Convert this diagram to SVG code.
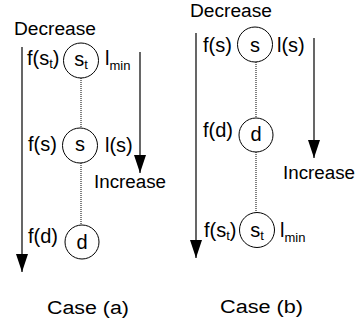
<svg xmlns="http://www.w3.org/2000/svg" width="360" height="327" viewBox="0 0 360 327">
<style>
  text { font-family: "Liberation Sans", Arial, sans-serif; fill: #000; }
  .lbl { font-size: 20px; }
  .ttl { font-size: 18px; }
  .sub { font-size: 13px; }
  .node { fill: #fff; stroke: #000; stroke-width: 1; }
  .dot { stroke: #000; stroke-width: 1; stroke-dasharray: 1 1; fill: none; }
  .axis { stroke: #000; stroke-width: 1.2; fill: none; marker-end: url(#arrow); }
</style>
<defs>
  <marker id="arrow" markerUnits="userSpaceOnUse" markerWidth="18" markerHeight="12" viewBox="0 -6 18 12" refX="18" refY="0" orient="auto">
    <path d="M0,-6 L18,0 L0,6 z" fill="#000"/>
  </marker>
</defs>

<g id="axes">
  <line class="axis" x1="22" y1="47" x2="22" y2="272"/>
  <line class="axis" x1="140" y1="52" x2="140" y2="173"/>
  <line class="axis" x1="196" y1="33" x2="196" y2="258"/>
  <line class="axis" x1="314" y1="38" x2="314" y2="158"/>
</g>

<g id="connectors">
  <line class="dot" x1="81" y1="78" x2="81" y2="128"/>
  <line class="dot" x1="81" y1="163" x2="81" y2="225"/>
  <line class="dot" x1="256" y1="62" x2="256" y2="118"/>
  <line class="dot" x1="256" y1="152" x2="256" y2="212"/>
</g>

<g id="titles">
  <text class="ttl" x="14" y="35" textLength="82" lengthAdjust="spacingAndGlyphs">Decrease</text>
  <text class="ttl" x="94" y="188" textLength="72" lengthAdjust="spacingAndGlyphs">Increase</text>
  <text class="ttl" x="190" y="17" textLength="82" lengthAdjust="spacingAndGlyphs">Decrease</text>
  <text class="ttl" x="283" y="179" textLength="72" lengthAdjust="spacingAndGlyphs">Increase</text>
  <text class="ttl" x="47" y="314" textLength="82" lengthAdjust="spacingAndGlyphs">Case (a)</text>
  <text class="ttl" x="220" y="313" textLength="83" lengthAdjust="spacingAndGlyphs">Case (b)</text>
</g>

<!-- Case (a) -->
<g id="a-st">
  <circle class="node" cx="81" cy="60.5" r="17.5"/>
  <text class="lbl" x="81" y="66" text-anchor="middle">s<tspan class="sub" dy="3">t</tspan></text>
  <text class="lbl" x="27" y="65">f(s<tspan class="sub" dy="3">t</tspan><tspan dy="-3">)</tspan></text>
  <text class="lbl" x="105" y="65">l<tspan class="sub" dy="5">min</tspan></text>
</g>
<g id="a-s">
  <circle class="node" cx="80" cy="145.5" r="17.5"/>
  <text class="lbl" x="80" y="151" text-anchor="middle">s</text>
  <text class="lbl" x="28" y="151">f(s)</text>
  <text class="lbl" x="105" y="152">l(s)</text>
</g>
<g id="a-d">
  <circle class="node" cx="82" cy="242" r="17"/>
  <text class="lbl" x="82" y="249" text-anchor="middle">d</text>
  <text class="lbl" x="28" y="243">f(d)</text>
</g>

<!-- Case (b) -->
<g id="b-s">
  <circle class="node" cx="255" cy="44.5" r="17.5"/>
  <text class="lbl" x="255" y="52" text-anchor="middle">s</text>
  <text class="lbl" x="203" y="52">f(s)</text>
  <text class="lbl" x="277" y="52">l(s)</text>
</g>
<g id="b-d">
  <circle class="node" cx="256" cy="135" r="17"/>
  <text class="lbl" x="256" y="141" text-anchor="middle">d</text>
  <text class="lbl" x="203" y="137">f(d)</text>
</g>
<g id="b-st">
  <circle class="node" cx="257" cy="230" r="17.5"/>
  <text class="lbl" x="257" y="237" text-anchor="middle">s<tspan class="sub" dy="3">t</tspan></text>
  <text class="lbl" x="204" y="237">f(s<tspan class="sub" dy="3">t</tspan><tspan dy="-3">)</tspan></text>
  <text class="lbl" x="280" y="237">l<tspan class="sub" dy="5">min</tspan></text>
</g>
</svg>
